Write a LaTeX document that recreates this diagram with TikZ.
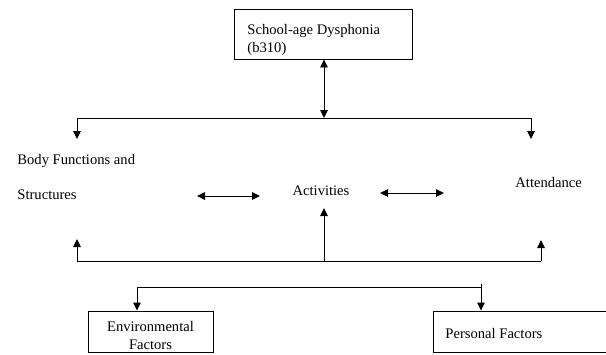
\documentclass[tikz,border=0pt]{standalone}
\usepackage{fontspec}
\setmainfont{Liberation Serif}
\usetikzlibrary{arrows.meta}
\begin{document}
\begin{tikzpicture}[x=1pt,y=-1pt,line width=0.9pt,
  >={Triangle[length=8pt,width=7.5pt]},
  lbl/.style={font=\fontsize{14.6}{17.5}\selectfont,inner sep=0pt},
  boxnode/.style={draw,line width=0.9pt,inner sep=0pt}]
\useasboundingbox (0,0) rectangle (606,354);
% boxes
\node[boxnode,minimum width=178pt,minimum height=50pt] (topbox) at (323,34) {};
\node[lbl,align=left,anchor=north west] (toptext) at (247,24) {School-age Dysphonia\\(b310)};
\node[boxnode,minimum width=125pt,minimum height=41pt] (envbox) at (150.5,331.5) {};
\node[lbl,align=center] (envtext) at (150.5,335.5) {Environmental\\Factors};
\node[boxnode,minimum width=180pt,minimum height=41pt] (persbox) at (523,331.5) {};
\node[lbl,anchor=base west] (perstext) at (445,338) {Personal Factors};
% text labels
\node[lbl,anchor=base west] (body1) at (17,164) {Body Functions and};
\node[lbl,anchor=base west] (body2) at (17,199) {Structures};
\node[lbl,anchor=base] (act) at (321,195) {Activities};
\node[lbl,anchor=base west] (att) at (515,187) {Attendance};
% coordinates
\coordinate (jtop) at (324,118);
\coordinate (tl) at (77,118);
\coordinate (tr) at (531,118);
\coordinate (tlend) at (77,139);
\coordinate (trend) at (531,139);
\coordinate (bl) at (77,261);
\coordinate (bm) at (324,261);
\coordinate (br) at (541,261);
\coordinate (blend) at (77,239);
\coordinate (bmend) at (324,208);
\coordinate (brend) at (541,240);
\coordinate (da1) at (197,196);
\coordinate (da2) at (260,196);
\coordinate (db1) at (380,193);
\coordinate (db2) at (444,193);
\coordinate (ll) at (137,287);
\coordinate (lr) at (481,287);
\coordinate (lrtop) at (481,284);
% connectors
\draw[<->] (topbox.south -| jtop) -- (jtop);
\draw (tl) -- (tr);
\draw[->] (tl) -- (tlend);
\draw[->] (tr) -- (trend);
\draw (bl) -- (br);
\draw[->] (bl) -- (blend);
\draw[->] (bm) -- (bmend);
\draw[->] (br) -- (brend);
\draw[<->] (da1) -- (da2);
\draw[<->] (db1) -- (db2);
\draw (ll) -- (lr);
\draw[->] (ll) -- (envbox.north -| ll);
\draw[->] (lrtop) -- (persbox.north -| lr);
\end{tikzpicture}
\end{document}
